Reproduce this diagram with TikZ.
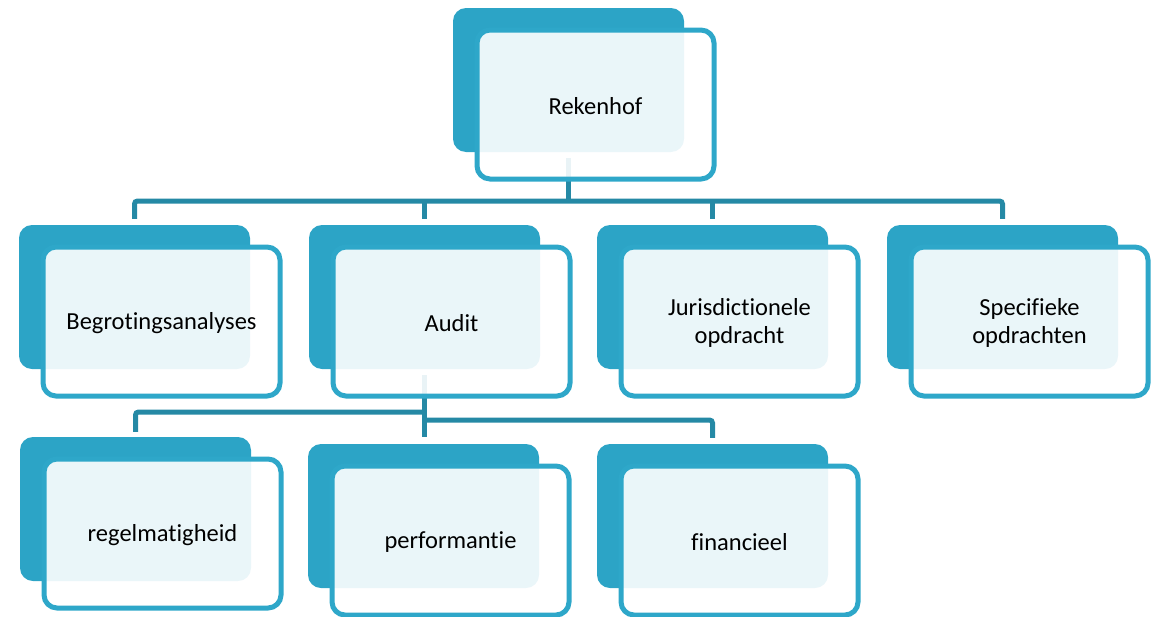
\documentclass[tikz,border=0pt]{standalone}
\usepackage{fontspec}
\setmainfont{Carlito}[Ligatures={NoCommon}]
\usetikzlibrary{calc,backgrounds}
\definecolor{tealfill}{RGB}{44,164,198}
\definecolor{tealline}{RGB}{46,167,201}
\definecolor{connc}{RGB}{37,137,165}
\newcommand\boxfont{\fontsize{24.5}{28.5}\selectfont}
\newcommand\obox[4]{%
  \begin{scope}[shift={(#2,#3)}]
    \node[darkbox] (#1b) at (0,0) {};
    \node[frontbox] (#1) at (27,24.5) {};
    \node[boxtext] (#1t) at (27,26) {#4};
  \end{scope}}
\tikzset{
  darkbox/.style={fill=tealfill, rounded corners=13pt, minimum width=231pt, minimum height=144pt, inner sep=0pt},
  frontbox/.style={draw=tealline, line width=5pt, fill=white, fill opacity=0.9, draw opacity=1, rounded corners=13pt, minimum width=237pt, minimum height=149pt, inner sep=0pt},
  boxtext/.style={inner sep=0pt, align=center, font=\boxfont, text=black},
  conn/.style={draw=connc, line width=5pt, rounded corners=3pt}
}
\begin{document}
\begin{tikzpicture}[x=1pt,y=-1pt]
\useasboundingbox (0,0) rectangle (1162,616);
\obox{rek}{568.5}{80}{Rekenhof}
\obox{beg}{134.5}{297}{Begrotingsanalyses}
\obox{aud}{424.5}{297}{Audit}
\obox{jur}{712.5}{297}{Jurisdictionele\\opdracht}
\obox{spec}{1002.5}{297}{Specifieke\\opdrachten}
\obox{reg}{135.5}{509}{regelmatigheid}
\obox{per}{423.5}{516}{performantie}
\obox{fin}{712.5}{516}{financieel}
\begin{pgfonlayer}{background}
  \coordinate (busT) at (0,201);
  \coordinate (busL) at (0,412);
  \coordinate (busR) at (0,420);
  \draw[conn] ($(rekb.south)+(0,6)$) -- (rekb.south |- busT);
  \draw[conn] ($(begb.north)+(0,-6)$) |- (busT -| specb.north) -- ($(specb.north)+(0,-6)$);
  \draw[conn] (audb.north |- busT) -- ($(audb.north)+(0,-6)$);
  \draw[conn] (jurb.north |- busT) -- ($(jurb.north)+(0,-6)$);
  \draw[conn] ($(audb.south)+(0,6)$) -- ($(audb.south)+(0,68)$);
  \draw[conn] ($(regb.north)+(0,-5)$) |- (busL -| audb.south);
  \draw[conn] (busR -| audb.south) -| ($(finb.north)+(0,-6)$);
\end{pgfonlayer}
\end{tikzpicture}
\end{document}
